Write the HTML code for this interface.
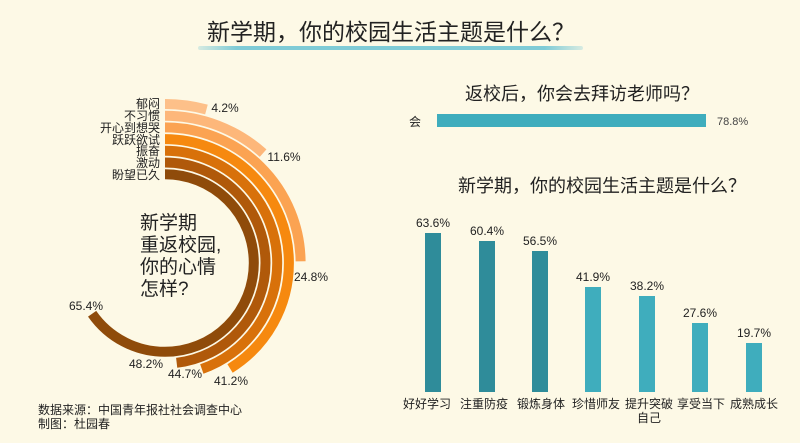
<!DOCTYPE html>
<html><head><meta charset="utf-8"><style>
body{margin:0;background:#fdf9e6;}
svg{display:block;font-family:"Liberation Sans","Noto Sans CJK SC",sans-serif;}
</style></head><body>
<svg width="800" height="443" viewBox="0 0 800 443">
<defs><linearGradient id="ul" x1="0" x2="1"><stop offset="0" stop-color="#7fcbd6" stop-opacity="0.3"/><stop offset="0.1" stop-color="#7fcbd6"/><stop offset="0.9" stop-color="#7fcbd6"/><stop offset="1" stop-color="#7fcbd6" stop-opacity="0.3"/></linearGradient></defs>
<rect width="800" height="443" fill="#fdf9e6"/>
<rect x="198" y="46" width="385" height="4" rx="2" fill="url(#ul)"/>
<text x="391" y="40" font-size="23" text-anchor="middle" fill="#222">新学期，你的校园生活主题是什么？</text>

<g fill="none" stroke-width="10" transform="rotate(-90 165 263)">
<circle cx="165" cy="263" r="159" pathLength="100" stroke="#fdc089" stroke-dasharray="4.2 200"/>
<circle cx="165" cy="263" r="147.3" pathLength="100" stroke="#fdb77a" stroke-dasharray="11.6 200"/>
<circle cx="165" cy="263" r="135.6" pathLength="100" stroke="#fba352" stroke-dasharray="24.8 200"/>
<circle cx="165" cy="263" r="123.9" pathLength="100" stroke="#f6890f" stroke-dasharray="41.2 200"/>
<circle cx="165" cy="263" r="112.2" pathLength="100" stroke="#d8710a" stroke-dasharray="44.7 200"/>
<circle cx="165" cy="263" r="100.5" pathLength="100" stroke="#b0590a" stroke-dasharray="48.2 200"/>
<circle cx="165" cy="263" r="88.8" pathLength="100" stroke="#8f4b0a" stroke-dasharray="65.4 200"/>
</g>
<g font-size="12" fill="#222" text-anchor="end">
<text x="160" y="108">郁闷</text>
<text x="160" y="120">不习惯</text>
<text x="160" y="132">开心到想哭</text>
<text x="160" y="144">跃跃欲试</text>
<text x="160" y="155">振奋</text>
<text x="160" y="167">激动</text>
<text x="160" y="179">盼望已久</text>
</g>
<g font-size="12" fill="#222" text-anchor="middle">
<text x="225" y="112">4.2%</text>
<text x="284" y="161">11.6%</text>
<text x="311" y="281">24.8%</text>
<text x="231" y="385">41.2%</text>
<text x="185" y="378">44.7%</text>
<text x="146" y="368">48.2%</text>
<text x="86" y="310">65.4%</text>
</g>
<g font-size="19" fill="#222">
<text x="140" y="229">新学期</text>
<text x="140" y="251">重返校园,</text>
<text x="140" y="273">你的心情</text>
<text x="140" y="295">怎样?</text>
</g>
<g font-size="12" fill="#222">
<text x="38" y="414">数据来源：中国青年报社社会调查中心</text>
<text x="38" y="428">制图：杜园春</text>
</g>

<text x="582" y="100" font-size="18" text-anchor="middle" fill="#222">返校后，你会去拜访老师吗？</text>
<text x="409" y="126" font-size="12" fill="#222">会</text>
<rect x="437" y="114" width="269" height="13" fill="#3fadbd"/>
<text x="717" y="125" font-size="11" fill="#444">78.8%</text>
<text x="602" y="192" font-size="18" text-anchor="middle" fill="#222">新学期，你的校园生活主题是什么？</text>

<g fill="#2f8c9a">
<rect x="425" y="233" width="16" height="159"/>
<rect x="479" y="241" width="16" height="151"/>
<rect x="532" y="251" width="16" height="141"/>
</g>
<g fill="#3fadbd">
<rect x="585" y="287" width="16" height="105"/>
<rect x="639" y="296" width="16" height="96"/>
<rect x="692" y="323" width="16" height="69"/>
<rect x="746" y="343" width="16" height="49"/>
</g>
<g font-size="12" fill="#222" text-anchor="middle">
<text x="433" y="227">63.6%</text>
<text x="487" y="235">60.4%</text>
<text x="540" y="245">56.5%</text>
<text x="593" y="281">41.9%</text>
<text x="647" y="290">38.2%</text>
<text x="700" y="317">27.6%</text>
<text x="754" y="337">19.7%</text>
<text x="427" y="408">好好学习</text>
<text x="484" y="408">注重防疫</text>
<text x="541" y="408">锻炼身体</text>
<text x="596" y="408">珍惜师友</text>
<text x="649" y="408">提升突破</text>
<text x="649" y="422">自己</text>
<text x="701" y="408">享受当下</text>
<text x="754" y="408">成熟成长</text>
</g>
</svg>
</body></html>
